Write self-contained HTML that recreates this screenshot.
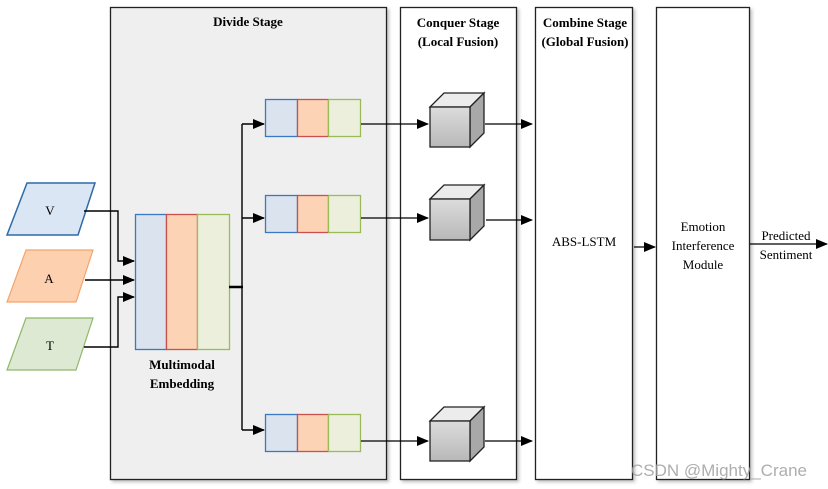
<!DOCTYPE html>
<html><head><meta charset="utf-8"><style>
html,body{margin:0;padding:0;background:#fff;}
svg{display:block;}
text{font-family:"Liberation Serif",serif;}
</style></head><body>
<svg width="828" height="489" viewBox="0 0 828 489" xmlns="http://www.w3.org/2000/svg">
<defs>
<marker id="ar" markerWidth="12" markerHeight="10" refX="11" refY="5" orient="auto" markerUnits="userSpaceOnUse">
<path d="M0,0 L12,5 L0,10 z" fill="#000"/></marker>
<linearGradient id="cf" x1="0" y1="0" x2="0" y2="1"><stop offset="0" stop-color="#dcdcdc"/><stop offset="1" stop-color="#b8b8b8"/></linearGradient>
<filter id="sh" x="-5%" y="-5%" width="115%" height="115%"><feDropShadow dx="2" dy="2" stdDeviation="1.5" flood-color="#000" flood-opacity="0.25"/></filter>
</defs>
<rect x="110.5" y="7.5" width="276" height="472" fill="#efefef" stroke="#222" stroke-width="1.3" filter="url(#sh)"/>
<rect x="400.5" y="7.5" width="116" height="472" fill="#fff" stroke="#222" stroke-width="1.3" filter="url(#sh)"/>
<rect x="535.5" y="7.5" width="97" height="472" fill="#fff" stroke="#222" stroke-width="1.3" filter="url(#sh)"/>
<rect x="656.5" y="7.5" width="93" height="472" fill="#fff" stroke="#222" stroke-width="1.3" filter="url(#sh)"/>
<g font-weight="bold" font-size="13" text-anchor="middle">
<text x="248" y="26">Divide Stage</text>
<text x="458" y="27">Conquer Stage</text>
<text x="458" y="46">(Local Fusion)</text>
<text x="585" y="27">Combine Stage</text>
<text x="585" y="46">(Global Fusion)</text>
</g>
<polygon points="27,183 95,183 78,235 7,235" fill="#dae6f3" stroke="#2e6aa8" stroke-width="1.5"/>
<polygon points="26,250 93,250 76,302 7,302" fill="#fdd1b0" stroke="#f4a46a" stroke-width="1.2"/>
<polygon points="26,318 93,318 76,370 7,370" fill="#dde9d2" stroke="#8db86a" stroke-width="1.2"/>
<g font-size="13" text-anchor="middle">
<text x="50" y="215">V</text><text x="49" y="283">A</text><text x="50" y="350">T</text>
</g>
<g fill="none" stroke="#000" stroke-width="1.4">
<polyline points="84,211 118,211 118,261 134,261" marker-end="url(#ar)"/>
<polyline points="85,280 134,280" marker-end="url(#ar)"/>
<polyline points="84,347 118,347 118,297 134,297" marker-end="url(#ar)"/>
</g>
<rect x="135.5" y="214.5" width="31" height="135" fill="#dbe3ef" stroke="#3b78c2" stroke-width="1.3"/>
<rect x="166.5" y="214.5" width="31" height="135" fill="#fdd3b6" stroke="#c9504b" stroke-width="1.3"/>
<rect x="197.5" y="214.5" width="32" height="135" fill="#ebefdc" stroke="#9bbb59" stroke-width="1.3"/>
<g font-weight="bold" font-size="13" text-anchor="middle">
<text x="182" y="369">Multimodal</text><text x="182" y="388">Embedding</text>
</g>
<g fill="none" stroke="#000" stroke-width="1.4">
<line x1="229" y1="287" x2="243" y2="287" stroke-width="2.5"/>
<polyline points="242,124 242,430"/>
<polyline points="242,124 264,124" marker-end="url(#ar)"/>
<polyline points="242,218 264,218" marker-end="url(#ar)"/>
<polyline points="242,430 264,430" marker-end="url(#ar)"/>
</g>
<g stroke-width="1.3">
<g transform="translate(0,99)">
<rect x="265.5" y="0.5" width="32" height="37" fill="#dbe3ef" stroke="#3b78c2"/>
<rect x="297.5" y="0.5" width="31" height="37" fill="#fdd3b6" stroke="#c9504b"/>
<rect x="328.5" y="0.5" width="32" height="37" fill="#ebefdc" stroke="#9bbb59"/>
</g>
<g transform="translate(0,195)">
<rect x="265.5" y="0.5" width="32" height="37" fill="#dbe3ef" stroke="#3b78c2"/>
<rect x="297.5" y="0.5" width="31" height="37" fill="#fdd3b6" stroke="#c9504b"/>
<rect x="328.5" y="0.5" width="32" height="37" fill="#ebefdc" stroke="#9bbb59"/>
</g>
<g transform="translate(0,414)">
<rect x="265.5" y="0.5" width="32" height="37" fill="#dbe3ef" stroke="#3b78c2"/>
<rect x="297.5" y="0.5" width="31" height="37" fill="#fdd3b6" stroke="#c9504b"/>
<rect x="328.5" y="0.5" width="32" height="37" fill="#ebefdc" stroke="#9bbb59"/>
</g>
</g>
<g fill="none" stroke="#000" stroke-width="1.3">
<line x1="361" y1="124" x2="428" y2="124" marker-end="url(#ar)"/>
<line x1="361" y1="218" x2="428" y2="218" marker-end="url(#ar)"/>
<line x1="361" y1="441" x2="428" y2="441" marker-end="url(#ar)"/>
<line x1="485" y1="124" x2="532" y2="124" marker-end="url(#ar)"/>
<line x1="486" y1="220" x2="532" y2="220" marker-end="url(#ar)"/>
<line x1="485" y1="441" x2="532" y2="441" marker-end="url(#ar)"/>
<line x1="634" y1="247" x2="655" y2="247" marker-end="url(#ar)"/>
<line x1="750" y1="244" x2="827" y2="244" marker-end="url(#ar)"/>
</g>
<g stroke="#222" stroke-width="1.3">
<g transform="translate(430,107)">
<polygon points="0,0 14,-14 54,-14 40,0" fill="#ececec"/>
<polygon points="40,0 54,-14 54,26 40,40" fill="#a8a8a8"/>
<rect x="0" y="0" width="40" height="40" fill="url(#cf)"/>
</g>
<g transform="translate(430,199)">
<polygon points="0,0 14,-14 54,-14 40,0" fill="#ececec"/>
<polygon points="40,0 54,-14 54,27 40,41" fill="#a8a8a8"/>
<rect x="0" y="0" width="40" height="41" fill="url(#cf)"/>
</g>
<g transform="translate(430,421)">
<polygon points="0,0 14,-14 54,-14 40,0" fill="#ececec"/>
<polygon points="40,0 54,-14 54,26 40,40" fill="#a8a8a8"/>
<rect x="0" y="0" width="40" height="40" fill="url(#cf)"/>
</g>
</g>
<g font-size="13" text-anchor="middle">
<text x="584" y="246">ABS-LSTM</text>
<text x="703" y="231">Emotion</text>
<text x="703" y="250">Interference</text>
<text x="703" y="269">Module</text>
<text x="786" y="240">Predicted</text>
<text x="786" y="259">Sentiment</text>
</g>
<text x="719" y="476" font-size="17" fill="#a0a0a0" fill-opacity="0.85" text-anchor="middle" style="font-family:'Liberation Sans',sans-serif">CSDN @Mighty_Crane</text>
</svg>
</body></html>
